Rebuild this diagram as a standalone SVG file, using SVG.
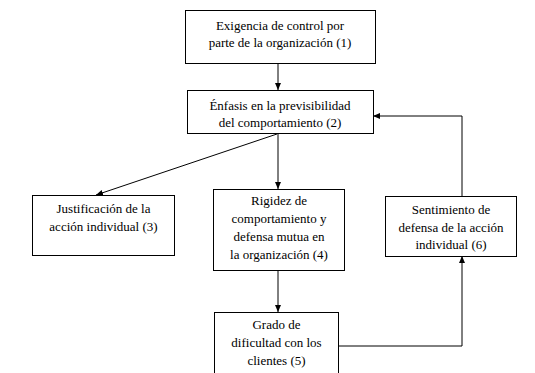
<svg xmlns="http://www.w3.org/2000/svg" width="535" height="373" viewBox="0 0 535 373">
<defs>
<marker id="ah" markerWidth="8" markerHeight="8" refX="7" refY="4" orient="auto" markerUnits="userSpaceOnUse">
<path d="M0,1 L7,4 L0,7 Z" fill="#000"/>
</marker>
<style>
.box{fill:#fff;stroke:#000;stroke-width:1}
.t{font-family:'Times New Roman','Liberation Serif',Times,'Noto Serif','DejaVu Serif',FreeSerif,serif;font-size:13px;fill:#000;text-anchor:middle}
.c{fill:none;stroke:#000;stroke-width:1;marker-end:url(#ah)}
</style>
</defs>
<rect width="535" height="373" fill="#fff"/>
<g id="connectors">
<line class="c" x1="278" y1="63" x2="278" y2="90"/>
<line class="c" x1="277" y1="134" x2="96" y2="195"/>
<line class="c" x1="278" y1="134" x2="278" y2="189"/>
<line class="c" x1="278" y1="270" x2="278" y2="312"/>
<polyline class="c" points="338,346 462,346 462,256"/>
<polyline class="c" points="462,196 462,116 373,116"/>
</g>
<g id="n1">
<rect class="box" x="185.5" y="10.5" width="190" height="53"/>
<text class="t" x="280" y="30">Exigencia de control por</text>
<text class="t" x="280" y="47">parte de la organización (1)</text>
</g>
<g id="n2">
<rect class="box" x="187.5" y="90.5" width="186" height="43"/>
<text class="t" x="280" y="110">Énfasis en la previsibilidad</text>
<text class="t" x="280" y="127">del comportamiento (2)</text>
</g>
<g id="n3">
<rect class="box" x="32.5" y="195.5" width="142" height="60"/>
<text class="t" x="103.5" y="213">Justificación de la</text>
<text class="t" x="103.5" y="231">acción individual (3)</text>
</g>
<g id="n4">
<rect class="box" x="213.5" y="189.5" width="131" height="81"/>
<text class="t" x="279" y="205">Rigidez de</text>
<text class="t" x="279" y="223">comportamiento y</text>
<text class="t" x="279" y="241">defensa mutua en</text>
<text class="t" x="279" y="259">la organización (4)</text>
</g>
<g id="n5">
<rect class="box" x="214.5" y="312.5" width="124" height="70"/>
<text class="t" x="276.5" y="329">Grado de</text>
<text class="t" x="276.5" y="347">dificultad con los</text>
<text class="t" x="276.5" y="365">clientes (5)</text>
</g>
<g id="n6">
<rect class="box" x="385.5" y="196.5" width="131" height="60"/>
<text class="t" x="451" y="214">Sentimiento de</text>
<text class="t" x="451" y="232">defensa de la acción</text>
<text class="t" x="451" y="249">individual (6)</text>
</g>
</svg>
